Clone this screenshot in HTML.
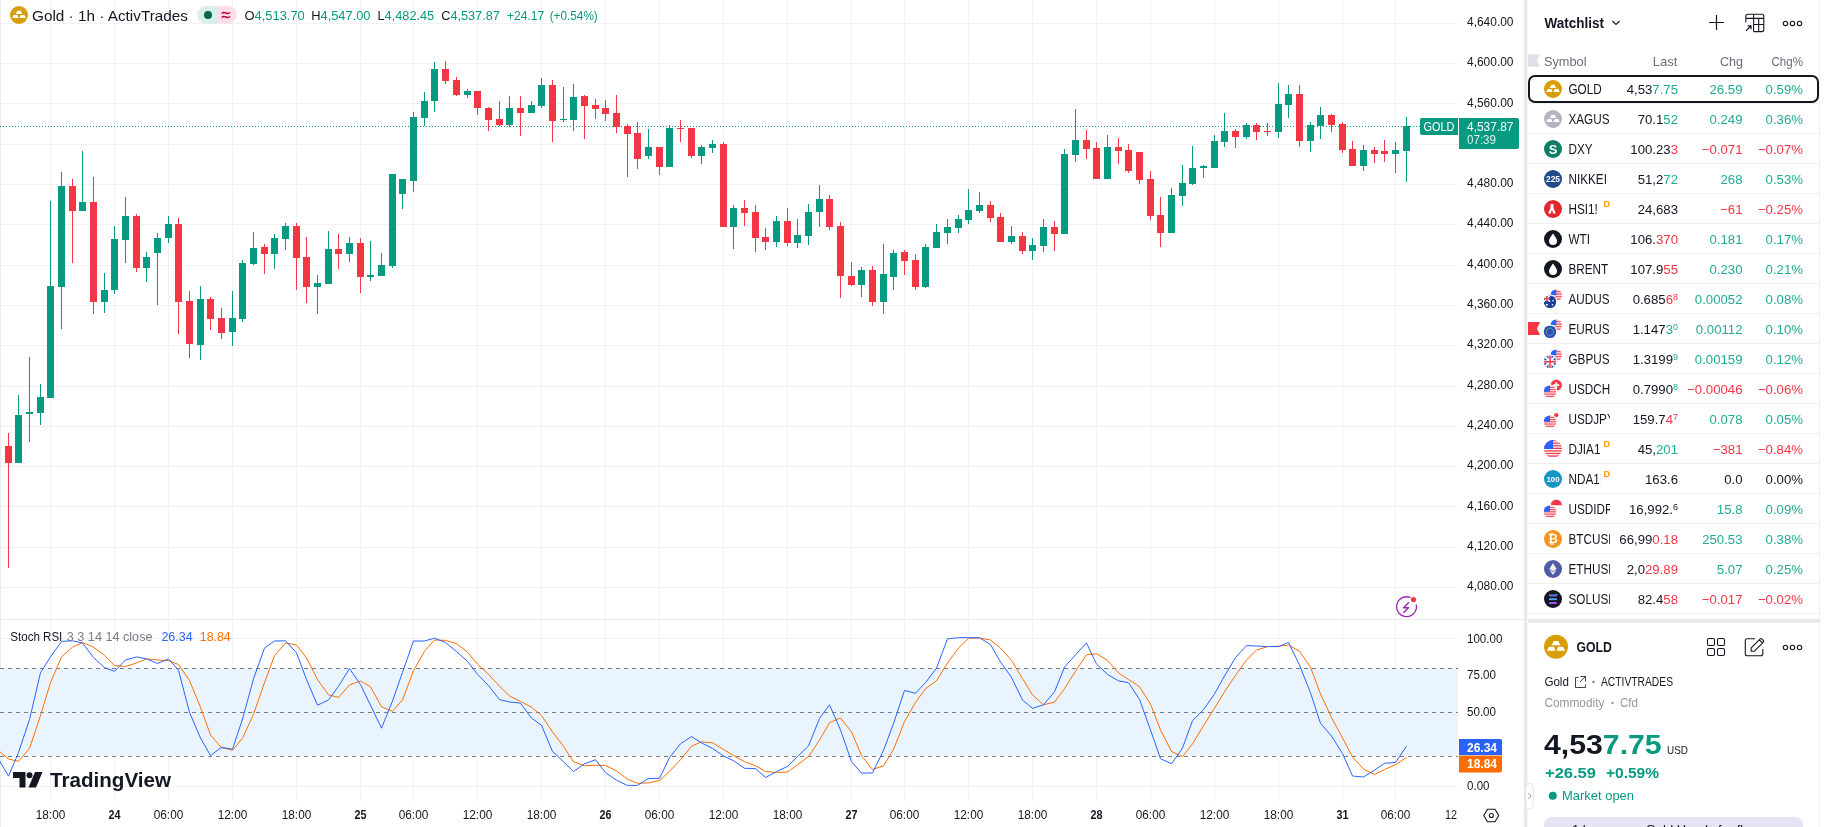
<!DOCTYPE html><html><head><meta charset="utf-8"><style>
html,body{margin:0;padding:0;background:#fff;}body{width:1824px;height:827px;overflow:hidden;position:relative;font-family:"Liberation Sans",sans-serif;}
svg text{font-family:"Liberation Sans",sans-serif;}svg{will-change:transform;}
</style></head><body>
<svg width="1824" height="827" viewBox="0 0 1824 827" style="position:absolute;left:0;top:0" shape-rendering="crispEdges">
<rect x="50" y="0" width="1" height="619" fill="#f2f2f2"/>
<rect x="50" y="620" width="1" height="181" fill="#f2f2f2"/>
<rect x="114" y="0" width="1" height="619" fill="#f2f2f2"/>
<rect x="114" y="620" width="1" height="181" fill="#f2f2f2"/>
<rect x="168" y="0" width="1" height="619" fill="#f2f2f2"/>
<rect x="168" y="620" width="1" height="181" fill="#f2f2f2"/>
<rect x="232" y="0" width="1" height="619" fill="#f2f2f2"/>
<rect x="232" y="620" width="1" height="181" fill="#f2f2f2"/>
<rect x="296" y="0" width="1" height="619" fill="#f2f2f2"/>
<rect x="296" y="620" width="1" height="181" fill="#f2f2f2"/>
<rect x="360" y="0" width="1" height="619" fill="#f2f2f2"/>
<rect x="360" y="620" width="1" height="181" fill="#f2f2f2"/>
<rect x="413" y="0" width="1" height="619" fill="#f2f2f2"/>
<rect x="413" y="620" width="1" height="181" fill="#f2f2f2"/>
<rect x="477" y="0" width="1" height="619" fill="#f2f2f2"/>
<rect x="477" y="620" width="1" height="181" fill="#f2f2f2"/>
<rect x="541" y="0" width="1" height="619" fill="#f2f2f2"/>
<rect x="541" y="620" width="1" height="181" fill="#f2f2f2"/>
<rect x="605" y="0" width="1" height="619" fill="#f2f2f2"/>
<rect x="605" y="620" width="1" height="181" fill="#f2f2f2"/>
<rect x="659" y="0" width="1" height="619" fill="#f2f2f2"/>
<rect x="659" y="620" width="1" height="181" fill="#f2f2f2"/>
<rect x="723" y="0" width="1" height="619" fill="#f2f2f2"/>
<rect x="723" y="620" width="1" height="181" fill="#f2f2f2"/>
<rect x="787" y="0" width="1" height="619" fill="#f2f2f2"/>
<rect x="787" y="620" width="1" height="181" fill="#f2f2f2"/>
<rect x="851" y="0" width="1" height="619" fill="#f2f2f2"/>
<rect x="851" y="620" width="1" height="181" fill="#f2f2f2"/>
<rect x="904" y="0" width="1" height="619" fill="#f2f2f2"/>
<rect x="904" y="620" width="1" height="181" fill="#f2f2f2"/>
<rect x="968" y="0" width="1" height="619" fill="#f2f2f2"/>
<rect x="968" y="620" width="1" height="181" fill="#f2f2f2"/>
<rect x="1032" y="0" width="1" height="619" fill="#f2f2f2"/>
<rect x="1032" y="620" width="1" height="181" fill="#f2f2f2"/>
<rect x="1096" y="0" width="1" height="619" fill="#f2f2f2"/>
<rect x="1096" y="620" width="1" height="181" fill="#f2f2f2"/>
<rect x="1150" y="0" width="1" height="619" fill="#f2f2f2"/>
<rect x="1150" y="620" width="1" height="181" fill="#f2f2f2"/>
<rect x="1214" y="0" width="1" height="619" fill="#f2f2f2"/>
<rect x="1214" y="620" width="1" height="181" fill="#f2f2f2"/>
<rect x="1278" y="0" width="1" height="619" fill="#f2f2f2"/>
<rect x="1278" y="620" width="1" height="181" fill="#f2f2f2"/>
<rect x="1342" y="0" width="1" height="619" fill="#f2f2f2"/>
<rect x="1342" y="620" width="1" height="181" fill="#f2f2f2"/>
<rect x="1395" y="0" width="1" height="619" fill="#f2f2f2"/>
<rect x="1395" y="620" width="1" height="181" fill="#f2f2f2"/>
<rect x="0" y="23" width="1458" height="1" fill="#f2f2f2"/>
<rect x="0" y="63" width="1458" height="1" fill="#f2f2f2"/>
<rect x="0" y="103" width="1458" height="1" fill="#f2f2f2"/>
<rect x="0" y="144" width="1458" height="1" fill="#f2f2f2"/>
<rect x="0" y="184" width="1458" height="1" fill="#f2f2f2"/>
<rect x="0" y="224" width="1458" height="1" fill="#f2f2f2"/>
<rect x="0" y="265" width="1458" height="1" fill="#f2f2f2"/>
<rect x="0" y="305" width="1458" height="1" fill="#f2f2f2"/>
<rect x="0" y="345" width="1458" height="1" fill="#f2f2f2"/>
<rect x="0" y="386" width="1458" height="1" fill="#f2f2f2"/>
<rect x="0" y="426" width="1458" height="1" fill="#f2f2f2"/>
<rect x="0" y="466" width="1458" height="1" fill="#f2f2f2"/>
<rect x="0" y="506" width="1458" height="1" fill="#f2f2f2"/>
<rect x="0" y="547" width="1458" height="1" fill="#f2f2f2"/>
<rect x="0" y="587" width="1458" height="1" fill="#f2f2f2"/>
<rect x="0" y="638" width="1458" height="1" fill="#f2f2f2"/>
<rect x="0" y="675" width="1458" height="1" fill="#f2f2f2"/>
<rect x="0" y="712" width="1458" height="1" fill="#f2f2f2"/>
<rect x="0" y="749" width="1458" height="1" fill="#f2f2f2"/>
<rect x="0" y="786" width="1458" height="1" fill="#f2f2f2"/>
<rect x="0" y="0" width="1" height="827" fill="#e9e9e9"/>
<rect x="0" y="619" width="1524" height="1" fill="#eaeaea"/>
<line x1="0" y1="126.5" x2="1420" y2="126.5" stroke="#089981" stroke-width="1" stroke-dasharray="1 2"/>
<rect x="8" y="433" width="1" height="135" fill="#f23645"/>
<rect x="5" y="446" width="7" height="17" fill="#f23645"/>
<rect x="18" y="395" width="1" height="68" fill="#089981"/>
<rect x="15" y="415" width="7" height="48" fill="#089981"/>
<rect x="29" y="357" width="1" height="85" fill="#089981"/>
<rect x="26" y="412" width="7" height="2" fill="#089981"/>
<rect x="40" y="384" width="1" height="41" fill="#089981"/>
<rect x="37" y="397" width="7" height="16" fill="#089981"/>
<rect x="50" y="201" width="1" height="197" fill="#089981"/>
<rect x="47" y="286" width="7" height="112" fill="#089981"/>
<rect x="61" y="172" width="1" height="157" fill="#089981"/>
<rect x="58" y="186" width="7" height="101" fill="#089981"/>
<rect x="72" y="179" width="1" height="84" fill="#f23645"/>
<rect x="69" y="186" width="7" height="25" fill="#f23645"/>
<rect x="82" y="151" width="1" height="60" fill="#089981"/>
<rect x="79" y="202" width="7" height="9" fill="#089981"/>
<rect x="93" y="177" width="1" height="137" fill="#f23645"/>
<rect x="90" y="202" width="7" height="100" fill="#f23645"/>
<rect x="104" y="273" width="1" height="40" fill="#089981"/>
<rect x="101" y="290" width="7" height="12" fill="#089981"/>
<rect x="114" y="226" width="1" height="68" fill="#089981"/>
<rect x="111" y="239" width="7" height="51" fill="#089981"/>
<rect x="125" y="197" width="1" height="66" fill="#089981"/>
<rect x="122" y="216" width="7" height="24" fill="#089981"/>
<rect x="136" y="214" width="1" height="58" fill="#f23645"/>
<rect x="133" y="216" width="7" height="52" fill="#f23645"/>
<rect x="146" y="252" width="1" height="30" fill="#089981"/>
<rect x="143" y="257" width="7" height="11" fill="#089981"/>
<rect x="157" y="233" width="1" height="72" fill="#089981"/>
<rect x="154" y="238" width="7" height="15" fill="#089981"/>
<rect x="168" y="216" width="1" height="27" fill="#089981"/>
<rect x="165" y="224" width="7" height="14" fill="#089981"/>
<rect x="178" y="218" width="1" height="116" fill="#f23645"/>
<rect x="175" y="224" width="7" height="78" fill="#f23645"/>
<rect x="189" y="291" width="1" height="67" fill="#f23645"/>
<rect x="186" y="301" width="7" height="43" fill="#f23645"/>
<rect x="200" y="286" width="1" height="74" fill="#089981"/>
<rect x="197" y="299" width="7" height="46" fill="#089981"/>
<rect x="210" y="297" width="1" height="33" fill="#f23645"/>
<rect x="207" y="299" width="7" height="20" fill="#f23645"/>
<rect x="221" y="308" width="1" height="31" fill="#f23645"/>
<rect x="218" y="318" width="7" height="15" fill="#f23645"/>
<rect x="232" y="291" width="1" height="55" fill="#089981"/>
<rect x="229" y="318" width="7" height="14" fill="#089981"/>
<rect x="242" y="260" width="1" height="62" fill="#089981"/>
<rect x="239" y="263" width="7" height="56" fill="#089981"/>
<rect x="253" y="232" width="1" height="33" fill="#089981"/>
<rect x="250" y="248" width="7" height="16" fill="#089981"/>
<rect x="264" y="244" width="1" height="30" fill="#f23645"/>
<rect x="261" y="247" width="7" height="7" fill="#f23645"/>
<rect x="274" y="234" width="1" height="35" fill="#089981"/>
<rect x="271" y="238" width="7" height="16" fill="#089981"/>
<rect x="285" y="223" width="1" height="27" fill="#089981"/>
<rect x="282" y="226" width="7" height="13" fill="#089981"/>
<rect x="296" y="223" width="1" height="67" fill="#f23645"/>
<rect x="293" y="226" width="7" height="32" fill="#f23645"/>
<rect x="306" y="237" width="1" height="66" fill="#f23645"/>
<rect x="303" y="257" width="7" height="30" fill="#f23645"/>
<rect x="317" y="275" width="1" height="39" fill="#089981"/>
<rect x="314" y="283" width="7" height="4" fill="#089981"/>
<rect x="328" y="231" width="1" height="53" fill="#089981"/>
<rect x="325" y="249" width="7" height="35" fill="#089981"/>
<rect x="338" y="234" width="1" height="35" fill="#f23645"/>
<rect x="335" y="249" width="7" height="5" fill="#f23645"/>
<rect x="349" y="237" width="1" height="25" fill="#089981"/>
<rect x="346" y="243" width="7" height="11" fill="#089981"/>
<rect x="360" y="238" width="1" height="55" fill="#f23645"/>
<rect x="357" y="243" width="7" height="34" fill="#f23645"/>
<rect x="370" y="241" width="1" height="40" fill="#089981"/>
<rect x="367" y="275" width="7" height="2" fill="#089981"/>
<rect x="381" y="253" width="1" height="23" fill="#089981"/>
<rect x="378" y="265" width="7" height="11" fill="#089981"/>
<rect x="392" y="174" width="1" height="94" fill="#089981"/>
<rect x="389" y="174" width="7" height="92" fill="#089981"/>
<rect x="402" y="179" width="1" height="30" fill="#089981"/>
<rect x="399" y="179" width="7" height="15" fill="#089981"/>
<rect x="413" y="112" width="1" height="80" fill="#089981"/>
<rect x="410" y="117" width="7" height="64" fill="#089981"/>
<rect x="424" y="92" width="1" height="34" fill="#089981"/>
<rect x="421" y="101" width="7" height="17" fill="#089981"/>
<rect x="434" y="62" width="1" height="50" fill="#089981"/>
<rect x="431" y="69" width="7" height="32" fill="#089981"/>
<rect x="445" y="61" width="1" height="23" fill="#f23645"/>
<rect x="442" y="69" width="7" height="12" fill="#f23645"/>
<rect x="456" y="77" width="1" height="19" fill="#f23645"/>
<rect x="453" y="80" width="7" height="15" fill="#f23645"/>
<rect x="467" y="89" width="1" height="9" fill="#089981"/>
<rect x="464" y="91" width="7" height="4" fill="#089981"/>
<rect x="477" y="91" width="1" height="24" fill="#f23645"/>
<rect x="474" y="91" width="7" height="17" fill="#f23645"/>
<rect x="488" y="107" width="1" height="24" fill="#f23645"/>
<rect x="485" y="108" width="7" height="12" fill="#f23645"/>
<rect x="499" y="101" width="1" height="25" fill="#f23645"/>
<rect x="496" y="119" width="7" height="6" fill="#f23645"/>
<rect x="509" y="96" width="1" height="31" fill="#089981"/>
<rect x="506" y="108" width="7" height="17" fill="#089981"/>
<rect x="520" y="96" width="1" height="40" fill="#f23645"/>
<rect x="517" y="108" width="7" height="5" fill="#f23645"/>
<rect x="531" y="101" width="1" height="12" fill="#089981"/>
<rect x="528" y="105" width="7" height="8" fill="#089981"/>
<rect x="541" y="78" width="1" height="30" fill="#089981"/>
<rect x="538" y="85" width="7" height="21" fill="#089981"/>
<rect x="552" y="80" width="1" height="62" fill="#f23645"/>
<rect x="549" y="85" width="7" height="36" fill="#f23645"/>
<rect x="563" y="87" width="1" height="35" fill="#089981"/>
<rect x="560" y="119" width="7" height="1" fill="#089981"/>
<rect x="573" y="84" width="1" height="47" fill="#089981"/>
<rect x="570" y="97" width="7" height="23" fill="#089981"/>
<rect x="584" y="95" width="1" height="44" fill="#f23645"/>
<rect x="581" y="96" width="7" height="10" fill="#f23645"/>
<rect x="595" y="99" width="1" height="20" fill="#f23645"/>
<rect x="592" y="105" width="7" height="4" fill="#f23645"/>
<rect x="605" y="100" width="1" height="21" fill="#f23645"/>
<rect x="602" y="108" width="7" height="6" fill="#f23645"/>
<rect x="616" y="95" width="1" height="38" fill="#f23645"/>
<rect x="613" y="113" width="7" height="14" fill="#f23645"/>
<rect x="627" y="124" width="1" height="53" fill="#f23645"/>
<rect x="624" y="126" width="7" height="8" fill="#f23645"/>
<rect x="637" y="122" width="1" height="47" fill="#f23645"/>
<rect x="634" y="133" width="7" height="26" fill="#f23645"/>
<rect x="648" y="129" width="1" height="30" fill="#089981"/>
<rect x="645" y="147" width="7" height="9" fill="#089981"/>
<rect x="659" y="147" width="1" height="28" fill="#f23645"/>
<rect x="656" y="147" width="7" height="20" fill="#f23645"/>
<rect x="669" y="125" width="1" height="42" fill="#089981"/>
<rect x="666" y="128" width="7" height="39" fill="#089981"/>
<rect x="680" y="120" width="1" height="22" fill="#f23645"/>
<rect x="677" y="128" width="7" height="1" fill="#f23645"/>
<rect x="691" y="128" width="1" height="30" fill="#f23645"/>
<rect x="688" y="128" width="7" height="28" fill="#f23645"/>
<rect x="701" y="145" width="1" height="19" fill="#089981"/>
<rect x="698" y="147" width="7" height="9" fill="#089981"/>
<rect x="712" y="140" width="1" height="13" fill="#089981"/>
<rect x="709" y="144" width="7" height="4" fill="#089981"/>
<rect x="723" y="142" width="1" height="85" fill="#f23645"/>
<rect x="720" y="144" width="7" height="83" fill="#f23645"/>
<rect x="733" y="205" width="1" height="44" fill="#089981"/>
<rect x="730" y="208" width="7" height="19" fill="#089981"/>
<rect x="744" y="200" width="1" height="26" fill="#f23645"/>
<rect x="741" y="208" width="7" height="5" fill="#f23645"/>
<rect x="755" y="205" width="1" height="47" fill="#f23645"/>
<rect x="752" y="212" width="7" height="26" fill="#f23645"/>
<rect x="765" y="228" width="1" height="22" fill="#f23645"/>
<rect x="762" y="237" width="7" height="5" fill="#f23645"/>
<rect x="776" y="216" width="1" height="31" fill="#089981"/>
<rect x="773" y="221" width="7" height="21" fill="#089981"/>
<rect x="787" y="208" width="1" height="38" fill="#f23645"/>
<rect x="784" y="221" width="7" height="22" fill="#f23645"/>
<rect x="797" y="219" width="1" height="29" fill="#089981"/>
<rect x="794" y="235" width="7" height="8" fill="#089981"/>
<rect x="808" y="204" width="1" height="41" fill="#089981"/>
<rect x="805" y="212" width="7" height="24" fill="#089981"/>
<rect x="819" y="185" width="1" height="42" fill="#089981"/>
<rect x="816" y="199" width="7" height="13" fill="#089981"/>
<rect x="829" y="195" width="1" height="35" fill="#f23645"/>
<rect x="826" y="199" width="7" height="28" fill="#f23645"/>
<rect x="840" y="222" width="1" height="76" fill="#f23645"/>
<rect x="837" y="226" width="7" height="50" fill="#f23645"/>
<rect x="851" y="262" width="1" height="24" fill="#f23645"/>
<rect x="848" y="276" width="7" height="9" fill="#f23645"/>
<rect x="861" y="267" width="1" height="30" fill="#089981"/>
<rect x="858" y="270" width="7" height="15" fill="#089981"/>
<rect x="872" y="266" width="1" height="40" fill="#f23645"/>
<rect x="869" y="270" width="7" height="32" fill="#f23645"/>
<rect x="883" y="244" width="1" height="70" fill="#089981"/>
<rect x="880" y="274" width="7" height="28" fill="#089981"/>
<rect x="893" y="250" width="1" height="40" fill="#089981"/>
<rect x="890" y="253" width="7" height="24" fill="#089981"/>
<rect x="904" y="250" width="1" height="25" fill="#f23645"/>
<rect x="901" y="252" width="7" height="9" fill="#f23645"/>
<rect x="915" y="254" width="1" height="36" fill="#f23645"/>
<rect x="912" y="260" width="7" height="27" fill="#f23645"/>
<rect x="925" y="244" width="1" height="44" fill="#089981"/>
<rect x="922" y="247" width="7" height="40" fill="#089981"/>
<rect x="936" y="224" width="1" height="24" fill="#089981"/>
<rect x="933" y="232" width="7" height="16" fill="#089981"/>
<rect x="947" y="219" width="1" height="25" fill="#089981"/>
<rect x="944" y="227" width="7" height="6" fill="#089981"/>
<rect x="958" y="215" width="1" height="18" fill="#089981"/>
<rect x="955" y="219" width="7" height="9" fill="#089981"/>
<rect x="968" y="189" width="1" height="35" fill="#089981"/>
<rect x="965" y="210" width="7" height="10" fill="#089981"/>
<rect x="979" y="192" width="1" height="21" fill="#089981"/>
<rect x="976" y="205" width="7" height="6" fill="#089981"/>
<rect x="990" y="201" width="1" height="21" fill="#f23645"/>
<rect x="987" y="205" width="7" height="13" fill="#f23645"/>
<rect x="1000" y="213" width="1" height="29" fill="#f23645"/>
<rect x="997" y="217" width="7" height="25" fill="#f23645"/>
<rect x="1011" y="226" width="1" height="18" fill="#089981"/>
<rect x="1008" y="236" width="7" height="6" fill="#089981"/>
<rect x="1022" y="232" width="1" height="22" fill="#f23645"/>
<rect x="1019" y="236" width="7" height="15" fill="#f23645"/>
<rect x="1032" y="238" width="1" height="22" fill="#089981"/>
<rect x="1029" y="245" width="7" height="6" fill="#089981"/>
<rect x="1043" y="219" width="1" height="33" fill="#089981"/>
<rect x="1040" y="227" width="7" height="19" fill="#089981"/>
<rect x="1054" y="221" width="1" height="30" fill="#f23645"/>
<rect x="1051" y="227" width="7" height="7" fill="#f23645"/>
<rect x="1064" y="149" width="1" height="85" fill="#089981"/>
<rect x="1061" y="154" width="7" height="80" fill="#089981"/>
<rect x="1075" y="109" width="1" height="53" fill="#089981"/>
<rect x="1072" y="140" width="7" height="15" fill="#089981"/>
<rect x="1086" y="130" width="1" height="29" fill="#f23645"/>
<rect x="1083" y="140" width="7" height="9" fill="#f23645"/>
<rect x="1096" y="142" width="1" height="37" fill="#f23645"/>
<rect x="1093" y="148" width="7" height="31" fill="#f23645"/>
<rect x="1107" y="135" width="1" height="44" fill="#089981"/>
<rect x="1104" y="147" width="7" height="32" fill="#089981"/>
<rect x="1118" y="138" width="1" height="26" fill="#f23645"/>
<rect x="1115" y="147" width="7" height="4" fill="#f23645"/>
<rect x="1128" y="144" width="1" height="29" fill="#f23645"/>
<rect x="1125" y="150" width="7" height="21" fill="#f23645"/>
<rect x="1139" y="152" width="1" height="32" fill="#f23645"/>
<rect x="1136" y="152" width="7" height="28" fill="#f23645"/>
<rect x="1150" y="171" width="1" height="49" fill="#f23645"/>
<rect x="1147" y="179" width="7" height="37" fill="#f23645"/>
<rect x="1160" y="197" width="1" height="50" fill="#f23645"/>
<rect x="1157" y="215" width="7" height="18" fill="#f23645"/>
<rect x="1171" y="188" width="1" height="45" fill="#089981"/>
<rect x="1168" y="195" width="7" height="38" fill="#089981"/>
<rect x="1182" y="165" width="1" height="41" fill="#089981"/>
<rect x="1179" y="183" width="7" height="13" fill="#089981"/>
<rect x="1192" y="146" width="1" height="39" fill="#089981"/>
<rect x="1189" y="168" width="7" height="16" fill="#089981"/>
<rect x="1203" y="165" width="1" height="13" fill="#089981"/>
<rect x="1200" y="166" width="7" height="2" fill="#089981"/>
<rect x="1214" y="135" width="1" height="33" fill="#089981"/>
<rect x="1211" y="141" width="7" height="27" fill="#089981"/>
<rect x="1224" y="113" width="1" height="34" fill="#089981"/>
<rect x="1221" y="131" width="7" height="11" fill="#089981"/>
<rect x="1235" y="129" width="1" height="19" fill="#f23645"/>
<rect x="1232" y="131" width="7" height="6" fill="#f23645"/>
<rect x="1246" y="123" width="1" height="16" fill="#089981"/>
<rect x="1243" y="125" width="7" height="12" fill="#089981"/>
<rect x="1256" y="123" width="1" height="17" fill="#f23645"/>
<rect x="1253" y="125" width="7" height="7" fill="#f23645"/>
<rect x="1267" y="123" width="1" height="13" fill="#f23645"/>
<rect x="1264" y="131" width="7" height="1" fill="#f23645"/>
<rect x="1278" y="83" width="1" height="55" fill="#089981"/>
<rect x="1275" y="104" width="7" height="28" fill="#089981"/>
<rect x="1288" y="85" width="1" height="33" fill="#089981"/>
<rect x="1285" y="94" width="7" height="11" fill="#089981"/>
<rect x="1299" y="85" width="1" height="62" fill="#f23645"/>
<rect x="1296" y="94" width="7" height="47" fill="#f23645"/>
<rect x="1310" y="122" width="1" height="30" fill="#089981"/>
<rect x="1307" y="125" width="7" height="16" fill="#089981"/>
<rect x="1320" y="107" width="1" height="32" fill="#089981"/>
<rect x="1317" y="115" width="7" height="11" fill="#089981"/>
<rect x="1331" y="114" width="1" height="18" fill="#f23645"/>
<rect x="1328" y="115" width="7" height="10" fill="#f23645"/>
<rect x="1342" y="122" width="1" height="31" fill="#f23645"/>
<rect x="1339" y="124" width="7" height="26" fill="#f23645"/>
<rect x="1352" y="141" width="1" height="25" fill="#f23645"/>
<rect x="1349" y="149" width="7" height="17" fill="#f23645"/>
<rect x="1363" y="145" width="1" height="26" fill="#089981"/>
<rect x="1360" y="150" width="7" height="16" fill="#089981"/>
<rect x="1374" y="147" width="1" height="16" fill="#f23645"/>
<rect x="1371" y="150" width="7" height="4" fill="#f23645"/>
<rect x="1384" y="140" width="1" height="22" fill="#f23645"/>
<rect x="1381" y="151" width="7" height="3" fill="#f23645"/>
<rect x="1395" y="142" width="1" height="31" fill="#089981"/>
<rect x="1392" y="150" width="7" height="4" fill="#089981"/>
<rect x="1406" y="117" width="1" height="65" fill="#089981"/>
<rect x="1403" y="126" width="7" height="25" fill="#089981"/>
<rect x="0" y="668" width="1458" height="88" fill="#e9f4fe" opacity="1"/>
<line x1="0" y1="668.5" x2="1458" y2="668.5" stroke="#787b86" stroke-width="1" stroke-dasharray="4 4"/>
<line x1="0" y1="712.5" x2="1458" y2="712.5" stroke="#787b86" stroke-width="1" stroke-dasharray="4 4"/>
<line x1="0" y1="756.5" x2="1458" y2="756.5" stroke="#787b86" stroke-width="1" stroke-dasharray="4 4"/>
</svg>
<svg width="1824" height="827" viewBox="0 0 1824 827" style="position:absolute;left:0;top:0">
<defs><clipPath id="sp"><rect x="0" y="620" width="1458" height="181"/></clipPath></defs>
<polyline clip-path="url(#sp)" points="-2.1,750 8.5,759 18.5,761.3 29.5,748.4 40.5,715.5 50.5,682.6 61.5,656.9 72.5,647.2 82.5,642.5 93.5,647.2 104.5,655.4 114.5,665.5 125.5,666.5 136.5,663 146.5,658.9 157.5,660 168.5,660.6 178.5,664.5 189.5,680.5 200.5,707.2 210.5,735 221.5,747.7 232.5,750.2 242.5,738.2 253.5,714.4 264.5,682.6 274.5,655.8 285.5,643 296.5,645 306.5,657.9 317.5,679.5 328.5,694.9 338.5,697.4 349.5,685 360.5,681 370.5,686.7 381.5,706.8 392.5,711.3 402.5,700 413.5,670.6 424.5,651.3 434.5,640 445.5,640.4 456.5,643.7 467.5,652.2 477.5,664.1 488.5,674.3 499.5,686.3 509.5,695.9 520.5,701.5 531.5,707.2 541.5,715.5 552.5,731.9 563.5,746.3 573.5,761.7 584.5,765.8 595.5,765.2 605.5,765.4 616.5,771 627.5,779.2 637.5,783.3 648.5,782.9 659.5,780.6 669.5,771.4 680.5,759.7 691.5,746.3 701.5,741.8 712.5,742.8 723.5,749.4 733.5,755.5 744.5,761.7 755.5,765.8 765.5,771.4 776.5,772.6 787.5,772 797.5,764.8 808.5,756.6 819.5,740.1 829.5,722.7 840.5,717.9 851.5,731.9 861.5,755.5 872.5,769.5 883.5,765.8 893.5,749.4 904.5,721.6 915.5,702.4 925.5,688.7 936.5,680.9 947.5,663 958.5,648 968.5,638.4 979.5,638 990.5,640 1000.5,648 1011.5,660.4 1022.5,678.5 1032.5,694.9 1043.5,704.8 1054.5,702.1 1064.5,688.7 1075.5,671.3 1086.5,654.8 1096.5,653.8 1107.5,660.4 1118.5,672.9 1128.5,679.5 1139.5,686.7 1150.5,704.2 1160.5,729.9 1171.5,751.4 1182.5,756.6 1192.5,743.8 1203.5,725.7 1214.5,708.3 1224.5,691.8 1235.5,675.4 1246.5,660 1256.5,650.1 1267.5,646.6 1278.5,646.2 1288.5,645.1 1299.5,651.3 1310.5,667.1 1320.5,693.9 1331.5,717.5 1342.5,738 1352.5,757 1363.5,769 1374.5,774.5 1384.5,769.5 1395.5,764.7 1406.5,757.5" fill="none" stroke="#ff6d00" stroke-width="1" stroke-linejoin="round"/>
<polyline clip-path="url(#sp)" points="-2.1,758 8.5,776.1 18.5,752.5 29.5,719.6 40.5,672.7 50.5,656.9 61.5,641.4 72.5,640.8 82.5,642.9 93.5,657.5 104.5,667.6 114.5,671.3 125.5,660 136.5,656.9 146.5,658.9 157.5,663.4 168.5,658.9 178.5,670.2 189.5,712.4 200.5,738 210.5,755.5 221.5,747.3 232.5,749.2 242.5,719 253.5,678.9 264.5,648 274.5,641 285.5,640.8 296.5,652.8 306.5,679.5 317.5,705.2 328.5,700 338.5,686.3 349.5,668.6 360.5,684.6 370.5,705.2 381.5,728.2 392.5,701 402.5,672.3 413.5,641 424.5,641 434.5,638.2 445.5,642.5 456.5,651.5 467.5,661.3 477.5,674.3 488.5,685.6 499.5,699.6 509.5,702 520.5,703.1 531.5,718.1 541.5,725.3 552.5,751.4 563.5,761.7 573.5,771.6 584.5,763.8 595.5,759.7 605.5,772.6 616.5,780.2 627.5,785.4 637.5,785.4 648.5,778.4 659.5,778.4 669.5,757.6 680.5,743.8 691.5,736.5 701.5,742.9 712.5,748.4 723.5,756 733.5,760.7 744.5,768.3 755.5,768.5 765.5,777.5 776.5,771.6 787.5,766.4 797.5,756.6 808.5,745.9 819.5,718.5 829.5,704.8 840.5,729.9 851.5,761.7 861.5,773 872.5,773 883.5,750.4 893.5,723.7 904.5,690.4 915.5,693.3 925.5,682.6 936.5,668.2 947.5,638.8 958.5,637.7 968.5,637.7 979.5,637.7 990.5,644.5 1000.5,662 1011.5,677.4 1022.5,700 1032.5,708.3 1043.5,704.8 1054.5,691.8 1064.5,667.1 1075.5,654.8 1086.5,642.9 1096.5,664.1 1107.5,674.3 1118.5,680.9 1128.5,682.6 1139.5,699.4 1150.5,730 1160.5,758.6 1171.5,763.8 1182.5,748 1192.5,720.6 1203.5,709.7 1214.5,693.9 1224.5,676 1235.5,657.5 1246.5,645.6 1256.5,646 1267.5,646.6 1278.5,646.6 1288.5,642.5 1299.5,665.1 1310.5,692.8 1320.5,723.3 1331.5,736 1342.5,753.5 1352.5,776 1363.5,777 1374.5,770.2 1384.5,763.3 1395.5,762.5 1406.5,746.2" fill="none" stroke="#2962ff" stroke-width="1" stroke-linejoin="round"/>
</svg>
<svg width="1824" height="827" viewBox="0 0 1824 827" style="position:absolute;left:0;top:0">
<rect x="1524" y="0" width="3" height="827" fill="#e9e9e9"/><rect x="1527" y="0" width="1" height="827" fill="#f7f7f7"/>
<rect x="1819" y="0" width="1" height="827" fill="#efefef"/>
<g transform="translate(19,15) scale(1.0)"><circle r="9" fill="#d89e06"/><path d="M-1.6,-4.3 h3.2 l1.7,3.3 h-6.6 z M-5.3,0 h3.7 l1.15,3 h-6.35 z M1.6,0 h3.7 l1.45,3 h-6.3 z" fill="#fff"/></g>
<text x="32" y="20.5" font-size="14.6" fill="#131722" textLength="156" lengthAdjust="spacingAndGlyphs">Gold · 1h · ActivTrades</text>
<path d="M206,6.1 h11 v17.6 h-11 a8.8,8.8 0 0 1 0,-17.6 z" fill="#d9efea"/>
<path d="M217,6.1 h11 a8.8,8.8 0 0 1 0,17.6 h-11 z" fill="#fcdfe8"/>
<circle cx="208" cy="14.9" r="4" fill="#08674f"/>
<path d="M221.8,13.6 c1.3,-1.6 2.6,-1.4 4.1,-0.6 c1.5,0.8 2.8,1 4.1,-0.6 M221.8,17.6 c1.3,-1.6 2.6,-1.4 4.1,-0.6 c1.5,0.8 2.8,1 4.1,-0.6" fill="none" stroke="#b8004f" stroke-width="1.5"/>
<text x="244.5" y="19.8" font-size="13.2" fill="#089981" textLength="60.3" lengthAdjust="spacingAndGlyphs"><tspan fill="#131722">O</tspan>4,513.70</text>
<text x="311.2" y="19.8" font-size="13.2" fill="#089981" textLength="59.3" lengthAdjust="spacingAndGlyphs"><tspan fill="#131722">H</tspan>4,547.00</text>
<text x="377.5" y="19.8" font-size="13.2" fill="#089981" textLength="56.7" lengthAdjust="spacingAndGlyphs"><tspan fill="#131722">L</tspan>4,482.45</text>
<text x="441.2" y="19.8" font-size="13.2" fill="#089981" textLength="58.6" lengthAdjust="spacingAndGlyphs"><tspan fill="#131722">C</tspan>4,537.87</text>
<text x="506.9" y="19.8" font-size="13.2" fill="#089981" textLength="37.4" lengthAdjust="spacingAndGlyphs">+24.17</text>
<text x="549.7" y="19.8" font-size="13.2" fill="#089981" textLength="48.1" lengthAdjust="spacingAndGlyphs">(+0.54%)</text>
<text x="1467" y="26.0" font-size="12" fill="#131722" textLength="46.5" lengthAdjust="spacingAndGlyphs">4,640.00</text>
<text x="1467" y="66.3" font-size="12" fill="#131722" textLength="46.5" lengthAdjust="spacingAndGlyphs">4,600.00</text>
<text x="1467" y="106.6" font-size="12" fill="#131722" textLength="46.5" lengthAdjust="spacingAndGlyphs">4,560.00</text>
<text x="1467" y="187.2" font-size="12" fill="#131722" textLength="46.5" lengthAdjust="spacingAndGlyphs">4,480.00</text>
<text x="1467" y="227.4" font-size="12" fill="#131722" textLength="46.5" lengthAdjust="spacingAndGlyphs">4,440.00</text>
<text x="1467" y="267.7" font-size="12" fill="#131722" textLength="46.5" lengthAdjust="spacingAndGlyphs">4,400.00</text>
<text x="1467" y="308.0" font-size="12" fill="#131722" textLength="46.5" lengthAdjust="spacingAndGlyphs">4,360.00</text>
<text x="1467" y="348.3" font-size="12" fill="#131722" textLength="46.5" lengthAdjust="spacingAndGlyphs">4,320.00</text>
<text x="1467" y="388.6" font-size="12" fill="#131722" textLength="46.5" lengthAdjust="spacingAndGlyphs">4,280.00</text>
<text x="1467" y="428.9" font-size="12" fill="#131722" textLength="46.5" lengthAdjust="spacingAndGlyphs">4,240.00</text>
<text x="1467" y="469.2" font-size="12" fill="#131722" textLength="46.5" lengthAdjust="spacingAndGlyphs">4,200.00</text>
<text x="1467" y="509.5" font-size="12" fill="#131722" textLength="46.5" lengthAdjust="spacingAndGlyphs">4,160.00</text>
<text x="1467" y="549.8" font-size="12" fill="#131722" textLength="46.5" lengthAdjust="spacingAndGlyphs">4,120.00</text>
<text x="1467" y="590.1" font-size="12" fill="#131722" textLength="46.5" lengthAdjust="spacingAndGlyphs">4,080.00</text>
<path d="M1422,118 h36 v17 h-36 a2,2 0 0 1 -2,-2 v-13 a2,2 0 0 1 2,-2 z" fill="#089981"/>
<text x="1439" y="131" font-size="12" fill="#fff" text-anchor="middle" textLength="31" lengthAdjust="spacingAndGlyphs">GOLD</text>
<path d="M1459,118 h58 a2,2 0 0 1 2,2 v27 a2,2 0 0 1 -2,2 h-58 z" fill="#089981"/>
<text x="1467" y="130.5" font-size="12" fill="#fff" textLength="46.5" lengthAdjust="spacingAndGlyphs">4,537.87</text>
<text x="1467" y="143.5" font-size="12" fill="#fff" fill-opacity="0.85" textLength="29" lengthAdjust="spacingAndGlyphs">07:39</text>
<text x="1467" y="642.8" font-size="12" fill="#131722" textLength="35.3" lengthAdjust="spacingAndGlyphs">100.00</text>
<text x="1467" y="679.3" font-size="12" fill="#131722" textLength="29" lengthAdjust="spacingAndGlyphs">75.00</text>
<text x="1467" y="716.3" font-size="12" fill="#131722" textLength="29" lengthAdjust="spacingAndGlyphs">50.00</text>
<text x="1467" y="790.3" font-size="12" fill="#131722" textLength="22.5" lengthAdjust="spacingAndGlyphs">0.00</text>
<path d="M1459,739 h41 a2,2 0 0 1 2,2 v14 h-43 z" fill="#2962ff"/>
<text x="1467" y="751.5" font-size="12" font-weight="bold" fill="#fff" textLength="30" lengthAdjust="spacingAndGlyphs">26.34</text>
<path d="M1459,755.5 h43 v15 a2,2 0 0 1 -2,2 h-41 z" fill="#ff6d00"/>
<text x="1467" y="768" font-size="12" font-weight="bold" fill="#fff" textLength="30" lengthAdjust="spacingAndGlyphs">18.84</text>
<g fill="none" stroke="#9c27b0" stroke-width="1.3"><path d="M1410.5,597.6 A9.9,9.9 0 1 0 1416.2,604.5"/></g>
<path d="M1409,602.3 L1403.5,607.8 h5 L1403.5,612.8" fill="none" stroke="#9c27b0" stroke-width="1.5" stroke-linejoin="round"/>
<circle cx="1413.5" cy="599.6" r="2.6" fill="#f23645"/>
<text x="10.3" y="641.2" font-size="12.6" fill="#131722"><tspan textLength="52" lengthAdjust="spacingAndGlyphs">Stoch RSI</tspan></text>
<text x="66.8" y="641.2" font-size="12.6" fill="#787b86" textLength="85.7" lengthAdjust="spacingAndGlyphs">3 3 14 14 close</text>
<text x="161.4" y="641.2" font-size="12.6" fill="#2962ff" textLength="31.2" lengthAdjust="spacingAndGlyphs">26.34</text>
<text x="199.8" y="641.2" font-size="12.6" fill="#ff6d00" textLength="30.9" lengthAdjust="spacingAndGlyphs">18.84</text>
<g fill="#131722"><path d="M13,772 h12.5 v15.5 h-6 v-9.5 h-6.5 z"/><circle cx="29.5" cy="775.2" r="3"/><path d="M35,772 h7.5 l-6.5,15.5 h-7.5 z"/></g>
<text x="50" y="787" font-size="20.5" font-weight="bold" fill="#131722" textLength="121" lengthAdjust="spacingAndGlyphs">TradingView</text>
<text x="50.5" y="818.8" font-size="12" fill="#131722" text-anchor="middle" textLength="29.5" lengthAdjust="spacingAndGlyphs">18:00</text>
<text x="114.5" y="818.8" font-size="12" font-weight="bold" fill="#131722" text-anchor="middle" textLength="12" lengthAdjust="spacingAndGlyphs">24</text>
<text x="168.5" y="818.8" font-size="12" fill="#131722" text-anchor="middle" textLength="29.5" lengthAdjust="spacingAndGlyphs">06:00</text>
<text x="232.5" y="818.8" font-size="12" fill="#131722" text-anchor="middle" textLength="29.5" lengthAdjust="spacingAndGlyphs">12:00</text>
<text x="296.5" y="818.8" font-size="12" fill="#131722" text-anchor="middle" textLength="29.5" lengthAdjust="spacingAndGlyphs">18:00</text>
<text x="360.5" y="818.8" font-size="12" font-weight="bold" fill="#131722" text-anchor="middle" textLength="12" lengthAdjust="spacingAndGlyphs">25</text>
<text x="413.5" y="818.8" font-size="12" fill="#131722" text-anchor="middle" textLength="29.5" lengthAdjust="spacingAndGlyphs">06:00</text>
<text x="477.5" y="818.8" font-size="12" fill="#131722" text-anchor="middle" textLength="29.5" lengthAdjust="spacingAndGlyphs">12:00</text>
<text x="541.5" y="818.8" font-size="12" fill="#131722" text-anchor="middle" textLength="29.5" lengthAdjust="spacingAndGlyphs">18:00</text>
<text x="605.5" y="818.8" font-size="12" font-weight="bold" fill="#131722" text-anchor="middle" textLength="12" lengthAdjust="spacingAndGlyphs">26</text>
<text x="659.5" y="818.8" font-size="12" fill="#131722" text-anchor="middle" textLength="29.5" lengthAdjust="spacingAndGlyphs">06:00</text>
<text x="723.5" y="818.8" font-size="12" fill="#131722" text-anchor="middle" textLength="29.5" lengthAdjust="spacingAndGlyphs">12:00</text>
<text x="787.5" y="818.8" font-size="12" fill="#131722" text-anchor="middle" textLength="29.5" lengthAdjust="spacingAndGlyphs">18:00</text>
<text x="851.5" y="818.8" font-size="12" font-weight="bold" fill="#131722" text-anchor="middle" textLength="12" lengthAdjust="spacingAndGlyphs">27</text>
<text x="904.5" y="818.8" font-size="12" fill="#131722" text-anchor="middle" textLength="29.5" lengthAdjust="spacingAndGlyphs">06:00</text>
<text x="968.5" y="818.8" font-size="12" fill="#131722" text-anchor="middle" textLength="29.5" lengthAdjust="spacingAndGlyphs">12:00</text>
<text x="1032.5" y="818.8" font-size="12" fill="#131722" text-anchor="middle" textLength="29.5" lengthAdjust="spacingAndGlyphs">18:00</text>
<text x="1096.5" y="818.8" font-size="12" font-weight="bold" fill="#131722" text-anchor="middle" textLength="12" lengthAdjust="spacingAndGlyphs">28</text>
<text x="1150.5" y="818.8" font-size="12" fill="#131722" text-anchor="middle" textLength="29.5" lengthAdjust="spacingAndGlyphs">06:00</text>
<text x="1214.5" y="818.8" font-size="12" fill="#131722" text-anchor="middle" textLength="29.5" lengthAdjust="spacingAndGlyphs">12:00</text>
<text x="1278.5" y="818.8" font-size="12" fill="#131722" text-anchor="middle" textLength="29.5" lengthAdjust="spacingAndGlyphs">18:00</text>
<text x="1342.5" y="818.8" font-size="12" font-weight="bold" fill="#131722" text-anchor="middle" textLength="12" lengthAdjust="spacingAndGlyphs">31</text>
<text x="1395.5" y="818.8" font-size="12" fill="#131722" text-anchor="middle" textLength="29.5" lengthAdjust="spacingAndGlyphs">06:00</text>
<text x="1445" y="818.8" font-size="12" fill="#131722" textLength="12" lengthAdjust="spacingAndGlyphs">12</text>
<path d="M1487.5,809.2 h7.5 l3.7,6.3 l-3.7,6.3 h-7.5 l-3.7,-6.3 z" fill="none" stroke="#131722" stroke-width="1.1"/>
<circle cx="1491.3" cy="815.5" r="2" fill="none" stroke="#131722" stroke-width="1.1"/>
<text x="1544.6" y="28.3" font-size="14.5" font-weight="bold" fill="#131722" textLength="59.5" lengthAdjust="spacingAndGlyphs">Watchlist</text>
<path d="M1612.5,21 l3.5,3.5 l3.5,-3.5" fill="none" stroke="#131722" stroke-width="1.1"/>
<path d="M1709,22.5 h15 M1716.5,15 v15" stroke="#131722" stroke-width="1.2"/>
<path d="M1745.8,22.6 v-6.4 a2,2 0 0 1 2,-2 h14 a2,2 0 0 1 2,2 v13.4 a2,2 0 0 1 -2,2 h-8.2 M1753.6,14.2 v17.4 M1745.8,18.4 h18 M1758.7,18.4 v13.2 M1753.6,24.5 h10.2" fill="none" stroke="#131722" stroke-width="1.1"/>
<path d="M1746,30.8 l4.8,-4.8 M1747.6,25.8 h3.4 v3.4" fill="none" stroke="#131722" stroke-width="1.2"/>
<circle cx="1785.5" cy="23.4" r="2.2" fill="none" stroke="#131722" stroke-width="1.1"/>
<circle cx="1792.5" cy="23.4" r="2.2" fill="none" stroke="#131722" stroke-width="1.1"/>
<circle cx="1799.5" cy="23.4" r="2.2" fill="none" stroke="#131722" stroke-width="1.1"/>
<path d="M1528,54.3 h12 l-3,6.2 l3,6.2 h-12 z" fill="#dfe1e6"/>
<text x="1544" y="65.8" font-size="13" fill="#6a6d78" textLength="42.5" lengthAdjust="spacingAndGlyphs">Symbol</text>
<text x="1677.5" y="65.8" font-size="13" fill="#6a6d78" text-anchor="end" textLength="24.8" lengthAdjust="spacingAndGlyphs">Last</text>
<text x="1743" y="65.8" font-size="13" fill="#6a6d78" text-anchor="end" textLength="23" lengthAdjust="spacingAndGlyphs">Chg</text>
<text x="1803" y="65.8" font-size="13" fill="#6a6d78" text-anchor="end" textLength="31.5" lengthAdjust="spacingAndGlyphs">Chg%</text>
<defs><clipPath id="symclip"><rect x="1560" y="70" width="50" height="550"/></clipPath><linearGradient id="fade" x1="0" x2="1" y1="0" y2="0"><stop offset="0" stop-color="#fff" stop-opacity="0"/><stop offset="1" stop-color="#fff" stop-opacity="1"/></linearGradient><clipPath id="symclipD"><rect x="1560" y="70" width="40.5" height="550"/></clipPath></defs>
<g transform="translate(1553,89) scale(1.0)"><circle r="9" fill="#d89e06"/><path d="M-1.6,-4.3 h3.2 l1.7,3.3 h-6.6 z M-5.3,0 h3.7 l1.15,3 h-6.35 z M1.6,0 h3.7 l1.45,3 h-6.3 z" fill="#fff"/></g>
<g clip-path="url(#symclip)"><text x="1568.5" y="93.7" font-size="13.8" fill="#131722" transform="translate(1568.5,0) scale(0.85,1) translate(-1568.5,0)">GOLD</text></g>
<text x="1678" y="93.7" font-size="13.2" text-anchor="end"><tspan fill="#131722">4,53</tspan><tspan fill="#22ab94">7.75</tspan></text>
<text x="1742.5" y="93.7" font-size="13.2" fill="#22ab94" text-anchor="end">26.59</text>
<text x="1803" y="93.7" font-size="13.2" fill="#22ab94" text-anchor="end">0.59%</text>
<rect x="1528" y="103" width="291" height="1" fill="#f0f0f0"/>
<g transform="translate(1553,119) scale(1.0)"><circle r="9" fill="#b2b5be"/><path d="M-1.6,-4.3 h3.2 l1.7,3.3 h-6.6 z M-5.3,0 h3.7 l1.15,3 h-6.35 z M1.6,0 h3.7 l1.45,3 h-6.3 z" fill="#fff"/></g>
<g clip-path="url(#symclip)"><text x="1568.5" y="123.7" font-size="13.8" fill="#131722" transform="translate(1568.5,0) scale(0.85,1) translate(-1568.5,0)">XAGUSD</text></g>
<text x="1678" y="123.7" font-size="13.2" text-anchor="end"><tspan fill="#131722">70.1</tspan><tspan fill="#22ab94">52</tspan></text>
<text x="1742.5" y="123.7" font-size="13.2" fill="#22ab94" text-anchor="end">0.249</text>
<text x="1803" y="123.7" font-size="13.2" fill="#22ab94" text-anchor="end">0.36%</text>
<rect x="1528" y="133" width="291" height="1" fill="#f0f0f0"/>
<circle cx="1553" cy="149" r="9" fill="#0d7d66"/><text x="1553" y="153.8" font-size="13" font-weight="bold" fill="#fff" text-anchor="middle">S</text>
<g clip-path="url(#symclip)"><text x="1568.5" y="153.7" font-size="13.8" fill="#131722" transform="translate(1568.5,0) scale(0.85,1) translate(-1568.5,0)">DXY</text></g>
<text x="1678" y="153.7" font-size="13.2" text-anchor="end"><tspan fill="#131722">100.23</tspan><tspan fill="#f23645">3</tspan></text>
<text x="1742.5" y="153.7" font-size="13.2" fill="#f23645" text-anchor="end">−0.071</text>
<text x="1803" y="153.7" font-size="13.2" fill="#f23645" text-anchor="end">−0.07%</text>
<rect x="1528" y="163" width="291" height="1" fill="#f0f0f0"/>
<circle cx="1553" cy="179" r="9" fill="#1e4b8a"/><text x="1553" y="182.3" font-size="8.5" font-weight="bold" fill="#fff" text-anchor="middle" textLength="14" lengthAdjust="spacingAndGlyphs">225</text>
<g clip-path="url(#symclip)"><text x="1568.5" y="183.7" font-size="13.8" fill="#131722" transform="translate(1568.5,0) scale(0.85,1) translate(-1568.5,0)">NIKKEI</text></g>
<text x="1678" y="183.7" font-size="13.2" text-anchor="end"><tspan fill="#131722">51,2</tspan><tspan fill="#22ab94">72</tspan></text>
<text x="1742.5" y="183.7" font-size="13.2" fill="#22ab94" text-anchor="end">268</text>
<text x="1803" y="183.7" font-size="13.2" fill="#22ab94" text-anchor="end">0.53%</text>
<rect x="1528" y="193" width="291" height="1" fill="#f0f0f0"/>
<circle cx="1553" cy="209" r="9" fill="#e5262f"/><path d="M1550.5,204 v4 l-2.3,5.5 h2.6 l1.2,-4 l1.2,4 h2.6 l-2.3,-5.5 v-4 z" fill="#fff"/>
<g clip-path="url(#symclipD)"><text x="1568.5" y="213.7" font-size="13.8" fill="#131722" transform="translate(1568.5,0) scale(0.85,1) translate(-1568.5,0)">HSI1!</text></g>
<text x="1603.4" y="206.8" font-size="9.3" font-weight="bold" fill="#ff9800">D</text>
<text x="1678" y="213.7" font-size="13.2" text-anchor="end"><tspan fill="#131722">24,683</tspan></text>
<text x="1742.5" y="213.7" font-size="13.2" fill="#f23645" text-anchor="end">−61</text>
<text x="1803" y="213.7" font-size="13.2" fill="#f23645" text-anchor="end">−0.25%</text>
<rect x="1528" y="223" width="291" height="1" fill="#f0f0f0"/>
<circle cx="1553" cy="239" r="9" fill="#131722"/><path d="M1553,233.5 C1549.7,238 1549,240 1549,241 a4,4 0 0 0 8,0 C1557,240 1556.3,238 1553,233.5 z" fill="#fff"/>
<g clip-path="url(#symclip)"><text x="1568.5" y="243.7" font-size="13.8" fill="#131722" transform="translate(1568.5,0) scale(0.85,1) translate(-1568.5,0)">WTI</text></g>
<text x="1678" y="243.7" font-size="13.2" text-anchor="end"><tspan fill="#131722">106.</tspan><tspan fill="#f23645">370</tspan></text>
<text x="1742.5" y="243.7" font-size="13.2" fill="#22ab94" text-anchor="end">0.181</text>
<text x="1803" y="243.7" font-size="13.2" fill="#22ab94" text-anchor="end">0.17%</text>
<rect x="1528" y="253" width="291" height="1" fill="#f0f0f0"/>
<circle cx="1553" cy="269" r="9" fill="#131722"/><path d="M1553,263.5 C1549.7,268 1549,270 1549,271 a4,4 0 0 0 8,0 C1557,270 1556.3,268 1553,263.5 z" fill="#fff"/>
<g clip-path="url(#symclip)"><text x="1568.5" y="273.7" font-size="13.8" fill="#131722" transform="translate(1568.5,0) scale(0.85,1) translate(-1568.5,0)">BRENT</text></g>
<text x="1678" y="273.7" font-size="13.2" text-anchor="end"><tspan fill="#131722">107.9</tspan><tspan fill="#f23645">55</tspan></text>
<text x="1742.5" y="273.7" font-size="13.2" fill="#22ab94" text-anchor="end">0.230</text>
<text x="1803" y="273.7" font-size="13.2" fill="#22ab94" text-anchor="end">0.21%</text>
<rect x="1528" y="283" width="291" height="1" fill="#f0f0f0"/>
<clipPath id="pc1553299"><circle cx="1550" cy="301.7" r="6.3"/></clipPath><g><clipPath id="c1556.3295.2"><circle cx="1556.3" cy="295.2" r="5.8"/></clipPath><g clip-path="url(#c1556.3295.2)"><rect x="1550.5" y="289.4" width="11.6" height="11.6" fill="#fff"/><rect x="1550.5" y="289.40" width="11.6" height="0.83" fill="#f23645"/><rect x="1550.5" y="291.06" width="11.6" height="0.83" fill="#f23645"/><rect x="1550.5" y="292.71" width="11.6" height="0.83" fill="#f23645"/><rect x="1550.5" y="294.37" width="11.6" height="0.83" fill="#f23645"/><rect x="1550.5" y="296.03" width="11.6" height="0.83" fill="#f23645"/><rect x="1550.5" y="297.69" width="11.6" height="0.83" fill="#f23645"/><rect x="1550.5" y="299.34" width="11.6" height="0.83" fill="#f23645"/><rect x="1550.5" y="289.4" width="5.8" height="5.8" fill="#2962ff"/></g></g><circle cx="1550" cy="301.7" r="7.3" fill="#fff"/><g clip-path="url(#pc1553299)"><rect x="1543.7" y="295.4" width="12.6" height="12.6" fill="#1e3d94"/><rect x="1543.7" y="295.4" width="6.3" height="6.3" fill="#1e3d94"/><path d="M1543.7,295.4 l6.3,6.3 M1550,295.4 l-6.3,6.3" stroke="#fff" stroke-width="1.4"/><path d="M1546.85,295.4 v6.3 M1543.7,298.55 h6.3" stroke="#f23645" stroke-width="1.2"/><circle cx="1546.85" cy="304.7" r="1" fill="#fff"/><circle cx="1553" cy="300.7" r="0.8" fill="#fff"/><circle cx="1552.5" cy="304.7" r="0.8" fill="#fff"/></g>
<g clip-path="url(#symclip)"><text x="1568.5" y="303.7" font-size="13.8" fill="#131722" transform="translate(1568.5,0) scale(0.85,1) translate(-1568.5,0)">AUDUSD</text></g>
<text x="1678" y="303.7" font-size="13.2" text-anchor="end"><tspan fill="#131722">0.685</tspan><tspan fill="#f23645">6</tspan><tspan fill="#f23645" font-size="9" dy="-4">8</tspan></text>
<text x="1742.5" y="303.7" font-size="13.2" fill="#22ab94" text-anchor="end">0.00052</text>
<text x="1803" y="303.7" font-size="13.2" fill="#22ab94" text-anchor="end">0.08%</text>
<rect x="1528" y="313" width="291" height="1" fill="#f0f0f0"/>
<clipPath id="pc1553329"><circle cx="1550" cy="331.7" r="6.3"/></clipPath><g><clipPath id="c1556.3325.2"><circle cx="1556.3" cy="325.2" r="5.8"/></clipPath><g clip-path="url(#c1556.3325.2)"><rect x="1550.5" y="319.4" width="11.6" height="11.6" fill="#fff"/><rect x="1550.5" y="319.40" width="11.6" height="0.83" fill="#f23645"/><rect x="1550.5" y="321.06" width="11.6" height="0.83" fill="#f23645"/><rect x="1550.5" y="322.71" width="11.6" height="0.83" fill="#f23645"/><rect x="1550.5" y="324.37" width="11.6" height="0.83" fill="#f23645"/><rect x="1550.5" y="326.03" width="11.6" height="0.83" fill="#f23645"/><rect x="1550.5" y="327.69" width="11.6" height="0.83" fill="#f23645"/><rect x="1550.5" y="329.34" width="11.6" height="0.83" fill="#f23645"/><rect x="1550.5" y="319.4" width="5.8" height="5.8" fill="#2962ff"/></g></g><circle cx="1550" cy="331.7" r="7.3" fill="#fff"/><g clip-path="url(#pc1553329)"><rect x="1543.7" y="325.4" width="12.6" height="12.6" fill="#2553b8"/><circle cx="1550" cy="331.7" r="3.6" fill="none" stroke="#f5d000" stroke-width="1" stroke-dasharray="0.9 1"/></g>
<g clip-path="url(#symclip)"><text x="1568.5" y="333.7" font-size="13.8" fill="#131722" transform="translate(1568.5,0) scale(0.85,1) translate(-1568.5,0)">EURUSD</text></g>
<text x="1678" y="333.7" font-size="13.2" text-anchor="end"><tspan fill="#131722">1.147</tspan><tspan fill="#22ab94">3</tspan><tspan fill="#22ab94" font-size="9" dy="-4">0</tspan></text>
<text x="1742.5" y="333.7" font-size="13.2" fill="#22ab94" text-anchor="end">0.00112</text>
<text x="1803" y="333.7" font-size="13.2" fill="#22ab94" text-anchor="end">0.10%</text>
<rect x="1528" y="343" width="291" height="1" fill="#f0f0f0"/>
<clipPath id="pc1553359"><circle cx="1550" cy="361.7" r="6.3"/></clipPath><g><clipPath id="c1556.3355.2"><circle cx="1556.3" cy="355.2" r="5.8"/></clipPath><g clip-path="url(#c1556.3355.2)"><rect x="1550.5" y="349.4" width="11.6" height="11.6" fill="#fff"/><rect x="1550.5" y="349.40" width="11.6" height="0.83" fill="#f23645"/><rect x="1550.5" y="351.06" width="11.6" height="0.83" fill="#f23645"/><rect x="1550.5" y="352.71" width="11.6" height="0.83" fill="#f23645"/><rect x="1550.5" y="354.37" width="11.6" height="0.83" fill="#f23645"/><rect x="1550.5" y="356.03" width="11.6" height="0.83" fill="#f23645"/><rect x="1550.5" y="357.69" width="11.6" height="0.83" fill="#f23645"/><rect x="1550.5" y="359.34" width="11.6" height="0.83" fill="#f23645"/><rect x="1550.5" y="349.4" width="5.8" height="5.8" fill="#2962ff"/></g></g><circle cx="1550" cy="361.7" r="7.3" fill="#fff"/><g clip-path="url(#pc1553359)"><rect x="1543.7" y="355.4" width="12.6" height="12.6" fill="#2a4ea0"/><path d="M1543.7,355.4 l12.6,12.6 M1556.3,355.4 l-12.6,12.6" stroke="#fff" stroke-width="2"/><path d="M1543.7,361.7 h12.6 M1550,355.4 v12.6" stroke="#fff" stroke-width="3"/><path d="M1543.7,361.7 h12.6 M1550,355.4 v12.6" stroke="#f23645" stroke-width="1.5"/></g>
<g clip-path="url(#symclip)"><text x="1568.5" y="363.7" font-size="13.8" fill="#131722" transform="translate(1568.5,0) scale(0.85,1) translate(-1568.5,0)">GBPUSD</text></g>
<text x="1678" y="363.7" font-size="13.2" text-anchor="end"><tspan fill="#131722">1.3199</tspan><tspan fill="#22ab94" font-size="9" dy="-4">9</tspan></text>
<text x="1742.5" y="363.7" font-size="13.2" fill="#22ab94" text-anchor="end">0.00159</text>
<text x="1803" y="363.7" font-size="13.2" fill="#22ab94" text-anchor="end">0.12%</text>
<rect x="1528" y="373" width="291" height="1" fill="#f0f0f0"/>
<clipPath id="pc1553389"><circle cx="1550" cy="391.7" r="6.3"/></clipPath><circle cx="1556.3" cy="385.2" r="5.8" fill="#f23645" stroke="#e6e6e6" stroke-width="0.6"/><path d="M1556.3,382.2 v6 M1553.3,385.2 h6" stroke="#fff" stroke-width="1.7"/><circle cx="1550" cy="391.7" r="7.3" fill="#fff"/><g><clipPath id="c1550391.7"><circle cx="1550" cy="391.7" r="6.3"/></clipPath><g clip-path="url(#c1550391.7)"><rect x="1543.7" y="385.4" width="12.6" height="12.6" fill="#fff"/><rect x="1543.7" y="385.40" width="12.6" height="0.90" fill="#f23645"/><rect x="1543.7" y="387.20" width="12.6" height="0.90" fill="#f23645"/><rect x="1543.7" y="389.00" width="12.6" height="0.90" fill="#f23645"/><rect x="1543.7" y="390.80" width="12.6" height="0.90" fill="#f23645"/><rect x="1543.7" y="392.60" width="12.6" height="0.90" fill="#f23645"/><rect x="1543.7" y="394.40" width="12.6" height="0.90" fill="#f23645"/><rect x="1543.7" y="396.20" width="12.6" height="0.90" fill="#f23645"/><rect x="1543.7" y="385.4" width="6.3" height="6.3" fill="#2962ff"/></g></g>
<g clip-path="url(#symclip)"><text x="1568.5" y="393.7" font-size="13.8" fill="#131722" transform="translate(1568.5,0) scale(0.85,1) translate(-1568.5,0)">USDCHF</text></g>
<text x="1678" y="393.7" font-size="13.2" text-anchor="end"><tspan fill="#131722">0.7990</tspan><tspan fill="#22ab94" font-size="9" dy="-4">8</tspan></text>
<text x="1742.5" y="393.7" font-size="13.2" fill="#f23645" text-anchor="end">−0.00046</text>
<text x="1803" y="393.7" font-size="13.2" fill="#f23645" text-anchor="end">−0.06%</text>
<rect x="1528" y="403" width="291" height="1" fill="#f0f0f0"/>
<clipPath id="pc1553419"><circle cx="1550" cy="421.7" r="6.3"/></clipPath><circle cx="1556.3" cy="415.2" r="5.8" fill="#fff" stroke="#e6e6e6" stroke-width="0.6"/><circle cx="1556.3" cy="415.2" r="2.1" fill="#f23645"/><circle cx="1550" cy="421.7" r="7.3" fill="#fff"/><g><clipPath id="c1550421.7"><circle cx="1550" cy="421.7" r="6.3"/></clipPath><g clip-path="url(#c1550421.7)"><rect x="1543.7" y="415.4" width="12.6" height="12.6" fill="#fff"/><rect x="1543.7" y="415.40" width="12.6" height="0.90" fill="#f23645"/><rect x="1543.7" y="417.20" width="12.6" height="0.90" fill="#f23645"/><rect x="1543.7" y="419.00" width="12.6" height="0.90" fill="#f23645"/><rect x="1543.7" y="420.80" width="12.6" height="0.90" fill="#f23645"/><rect x="1543.7" y="422.60" width="12.6" height="0.90" fill="#f23645"/><rect x="1543.7" y="424.40" width="12.6" height="0.90" fill="#f23645"/><rect x="1543.7" y="426.20" width="12.6" height="0.90" fill="#f23645"/><rect x="1543.7" y="415.4" width="6.3" height="6.3" fill="#2962ff"/></g></g>
<g clip-path="url(#symclip)"><text x="1568.5" y="423.7" font-size="13.8" fill="#131722" transform="translate(1568.5,0) scale(0.85,1) translate(-1568.5,0)">USDJPY</text></g>
<text x="1678" y="423.7" font-size="13.2" text-anchor="end"><tspan fill="#131722">159.7</tspan><tspan fill="#f23645">4</tspan><tspan fill="#f23645" font-size="9" dy="-4">7</tspan></text>
<text x="1742.5" y="423.7" font-size="13.2" fill="#22ab94" text-anchor="end">0.078</text>
<text x="1803" y="423.7" font-size="13.2" fill="#22ab94" text-anchor="end">0.05%</text>
<rect x="1528" y="433" width="291" height="1" fill="#f0f0f0"/>
<circle cx="1553" cy="449" r="9" fill="#fff"/><g><clipPath id="c1553449"><circle cx="1553" cy="449" r="9"/></clipPath><g clip-path="url(#c1553449)"><rect x="1544" y="440" width="18" height="18" fill="#fff"/><rect x="1544" y="440.00" width="18" height="1.29" fill="#f23645"/><rect x="1544" y="442.57" width="18" height="1.29" fill="#f23645"/><rect x="1544" y="445.14" width="18" height="1.29" fill="#f23645"/><rect x="1544" y="447.71" width="18" height="1.29" fill="#f23645"/><rect x="1544" y="450.29" width="18" height="1.29" fill="#f23645"/><rect x="1544" y="452.86" width="18" height="1.29" fill="#f23645"/><rect x="1544" y="455.43" width="18" height="1.29" fill="#f23645"/><rect x="1544" y="440" width="9" height="9" fill="#2962ff"/></g></g>
<g clip-path="url(#symclipD)"><text x="1568.5" y="453.7" font-size="13.8" fill="#131722" transform="translate(1568.5,0) scale(0.85,1) translate(-1568.5,0)">DJIA1!</text></g>
<text x="1603.4" y="446.8" font-size="9.3" font-weight="bold" fill="#ff9800">D</text>
<text x="1678" y="453.7" font-size="13.2" text-anchor="end"><tspan fill="#131722">45,</tspan><tspan fill="#22ab94">201</tspan></text>
<text x="1742.5" y="453.7" font-size="13.2" fill="#f23645" text-anchor="end">−381</text>
<text x="1803" y="453.7" font-size="13.2" fill="#f23645" text-anchor="end">−0.84%</text>
<rect x="1528" y="463" width="291" height="1" fill="#f0f0f0"/>
<circle cx="1553" cy="479" r="9" fill="#1496c2"/><text x="1553" y="482" font-size="8" font-weight="bold" fill="#fff" text-anchor="middle" textLength="13" lengthAdjust="spacingAndGlyphs">100</text>
<g clip-path="url(#symclipD)"><text x="1568.5" y="483.7" font-size="13.8" fill="#131722" transform="translate(1568.5,0) scale(0.85,1) translate(-1568.5,0)">NDA1!</text></g>
<text x="1603.4" y="476.8" font-size="9.3" font-weight="bold" fill="#ff9800">D</text>
<text x="1678" y="483.7" font-size="13.2" text-anchor="end"><tspan fill="#131722">163.6</tspan></text>
<text x="1742.5" y="483.7" font-size="13.2" fill="#131722" text-anchor="end">0.0</text>
<text x="1803" y="483.7" font-size="13.2" fill="#131722" text-anchor="end">0.00%</text>
<rect x="1528" y="493" width="291" height="1" fill="#f0f0f0"/>
<clipPath id="pc1553509"><circle cx="1550" cy="511.7" r="6.3"/></clipPath><circle cx="1556.3" cy="505.2" r="5.8" fill="#f23645" stroke="#e6e6e6" stroke-width="0.6"/><rect x="1550.5" y="505.2" width="11.6" height="5.8" fill="#fff"/><circle cx="1550" cy="511.7" r="7.3" fill="#fff"/><g><clipPath id="c1550511.7"><circle cx="1550" cy="511.7" r="6.3"/></clipPath><g clip-path="url(#c1550511.7)"><rect x="1543.7" y="505.4" width="12.6" height="12.6" fill="#fff"/><rect x="1543.7" y="505.40" width="12.6" height="0.90" fill="#f23645"/><rect x="1543.7" y="507.20" width="12.6" height="0.90" fill="#f23645"/><rect x="1543.7" y="509.00" width="12.6" height="0.90" fill="#f23645"/><rect x="1543.7" y="510.80" width="12.6" height="0.90" fill="#f23645"/><rect x="1543.7" y="512.60" width="12.6" height="0.90" fill="#f23645"/><rect x="1543.7" y="514.40" width="12.6" height="0.90" fill="#f23645"/><rect x="1543.7" y="516.20" width="12.6" height="0.90" fill="#f23645"/><rect x="1543.7" y="505.4" width="6.3" height="6.3" fill="#2962ff"/></g></g>
<g clip-path="url(#symclip)"><text x="1568.5" y="513.7" font-size="13.8" fill="#131722" transform="translate(1568.5,0) scale(0.85,1) translate(-1568.5,0)">USDIDR</text></g>
<text x="1678" y="513.7" font-size="13.2" text-anchor="end"><tspan fill="#131722">16,992.</tspan><tspan fill="#131722" font-size="9" dy="-4">6</tspan></text>
<text x="1742.5" y="513.7" font-size="13.2" fill="#22ab94" text-anchor="end">15.8</text>
<text x="1803" y="513.7" font-size="13.2" fill="#22ab94" text-anchor="end">0.09%</text>
<rect x="1528" y="523" width="291" height="1" fill="#f0f0f0"/>
<circle cx="1553" cy="539" r="9" fill="#f7931a"/><text x="1553" y="543.3" font-size="12" font-weight="bold" fill="#fff" text-anchor="middle">₿</text>
<g clip-path="url(#symclip)"><text x="1568.5" y="543.7" font-size="13.8" fill="#131722" transform="translate(1568.5,0) scale(0.85,1) translate(-1568.5,0)">BTCUSD</text></g>
<text x="1678" y="543.7" font-size="13.2" text-anchor="end"><tspan fill="#131722">66,99</tspan><tspan fill="#f23645">0.18</tspan></text>
<text x="1742.5" y="543.7" font-size="13.2" fill="#22ab94" text-anchor="end">250.53</text>
<text x="1803" y="543.7" font-size="13.2" fill="#22ab94" text-anchor="end">0.38%</text>
<rect x="1528" y="553" width="291" height="1" fill="#f0f0f0"/>
<circle cx="1553" cy="569" r="9" fill="#4e5ba6"/><path d="M1553,563 l-3.6,6 l3.6,2.2 l3.6,-2.2 z M1549.4,569.8 l3.6,5.2 l3.6,-5.2 l-3.6,2.2 z" fill="#fff" fill-opacity="0.9"/>
<g clip-path="url(#symclip)"><text x="1568.5" y="573.7" font-size="13.8" fill="#131722" transform="translate(1568.5,0) scale(0.85,1) translate(-1568.5,0)">ETHUSD</text></g>
<text x="1678" y="573.7" font-size="13.2" text-anchor="end"><tspan fill="#131722">2,0</tspan><tspan fill="#f23645">29.89</tspan></text>
<text x="1742.5" y="573.7" font-size="13.2" fill="#22ab94" text-anchor="end">5.07</text>
<text x="1803" y="573.7" font-size="13.2" fill="#22ab94" text-anchor="end">0.25%</text>
<rect x="1528" y="583" width="291" height="1" fill="#f0f0f0"/>
<circle cx="1553" cy="599" r="9" fill="#131722"/><path d="M1549,595.2 h7 l1,-1 M1549,599.3 h7 M1549,603.3 h7" stroke="#19d3c5" stroke-width="1.6"/><path d="M1549.5,595.7 h7.5" stroke="#7b5cff" stroke-width="1.6"/><path d="M1549.5,599.3 h7.5" stroke="#4aa3ff" stroke-width="1.6"/><path d="M1549.5,603 h7.5" stroke="#c13dff" stroke-width="1.6"/>
<g clip-path="url(#symclip)"><text x="1568.5" y="603.7" font-size="13.8" fill="#131722" transform="translate(1568.5,0) scale(0.85,1) translate(-1568.5,0)">SOLUSD</text></g>
<text x="1678" y="603.7" font-size="13.2" text-anchor="end"><tspan fill="#131722">82.4</tspan><tspan fill="#f23645">58</tspan></text>
<text x="1742.5" y="603.7" font-size="13.2" fill="#f23645" text-anchor="end">−0.017</text>
<text x="1803" y="603.7" font-size="13.2" fill="#f23645" text-anchor="end">−0.02%</text>
<rect x="1529" y="76" width="289" height="26" rx="6" fill="none" stroke="#131722" stroke-width="2"/>
<path d="M1528,322 h12 l-3,6.5 l3,6.5 h-12 z" fill="#f23645"/>
<rect x="1528" y="613" width="291" height="1" fill="#f0f0f0"/>
<rect x="1528" y="619" width="292" height="4" fill="#e9e9e9"/>
<g transform="translate(1556,646.7) scale(1.3333333333333333)"><circle r="9" fill="#d89e06"/><path d="M-1.6,-4.3 h3.2 l1.7,3.3 h-6.6 z M-5.3,0 h3.7 l1.15,3 h-6.35 z M1.6,0 h3.7 l1.45,3 h-6.3 z" fill="#fff"/></g>
<text x="1576.4" y="652" font-size="14.5" font-weight="bold" fill="#131722" textLength="35.4" lengthAdjust="spacingAndGlyphs">GOLD</text>
<rect x="1707.5" y="638.5" width="7" height="7" rx="1.5" fill="none" stroke="#131722" stroke-width="1.1"/>
<rect x="1707.5" y="648.5" width="7" height="7" rx="1.5" fill="none" stroke="#131722" stroke-width="1.1"/>
<rect x="1717.5" y="638.5" width="7" height="7" rx="1.5" fill="none" stroke="#131722" stroke-width="1.1"/>
<rect x="1717.5" y="648.5" width="7" height="7" rx="1.5" fill="none" stroke="#131722" stroke-width="1.1"/>
<path d="M1755,638.7 h-7.7 a2,2 0 0 0 -2,2 v13 a2,2 0 0 0 2,2 h13.5 a2,2 0 0 0 2,-2 v-4.7" fill="none" stroke="#131722" stroke-width="1.1"/>
<path d="M1751.2,651.2 v-3.3 l9,-9 a1.1,1.1 0 0 1 1.6,0 l1.6,1.6 a1.1,1.1 0 0 1 0,1.6 l-9,9 z M1759.3,639.8 l3.2,3.2" fill="none" stroke="#131722" stroke-width="1.1" stroke-linejoin="round"/>
<circle cx="1785.5" cy="647.5" r="2.2" fill="none" stroke="#131722" stroke-width="1.1"/>
<circle cx="1792.5" cy="647.5" r="2.2" fill="none" stroke="#131722" stroke-width="1.1"/>
<circle cx="1799.5" cy="647.5" r="2.2" fill="none" stroke="#131722" stroke-width="1.1"/>
<text x="1544.4" y="686" font-size="12.5" fill="#131722" textLength="24.5" lengthAdjust="spacingAndGlyphs">Gold</text>
<path d="M1578.5,677.5 h-3 v10 h10 v-3 M1580.5,676.5 h5 v5 M1585.5,676.5 l-5.5,5.5" fill="none" stroke="#131722" stroke-width="1" stroke-opacity="0.8"/>
<circle cx="1593.5" cy="682" r="1.2" fill="#787b86"/>
<text x="1601" y="686" font-size="12.5" fill="#131722" textLength="72" lengthAdjust="spacingAndGlyphs">ACTIVTRADES</text>
<text x="1544.4" y="707" font-size="12.5" fill="#9598a1" textLength="60" lengthAdjust="spacingAndGlyphs">Commodity</text>
<circle cx="1612.5" cy="703" r="1.2" fill="#9598a1"/>
<text x="1620" y="707" font-size="12.5" fill="#9598a1" textLength="18" lengthAdjust="spacingAndGlyphs">Cfd</text>
<text x="1544" y="753.8" font-size="28" font-weight="bold" fill="#131722" textLength="117.7" lengthAdjust="spacingAndGlyphs">4,53<tspan fill="#089981">7.75</tspan></text>
<text x="1667" y="754" font-size="11.5" fill="#131722" textLength="21" lengthAdjust="spacingAndGlyphs">USD</text>
<text x="1545" y="778" font-size="14" font-weight="bold" fill="#089981" textLength="51" lengthAdjust="spacingAndGlyphs">+26.59</text>
<text x="1606" y="778" font-size="14" font-weight="bold" fill="#089981" textLength="53" lengthAdjust="spacingAndGlyphs">+0.59%</text>
<circle cx="1552.8" cy="795.8" r="4" fill="#089981"/>
<text x="1562" y="800" font-size="13" fill="#089981" textLength="72" lengthAdjust="spacingAndGlyphs">Market open</text>
<path d="M1544,827 v-2 a8,8 0 0 1 8,-8 h243 a8,8 0 0 1 8,8 v2 z" fill="#e8e3f4"/>
<text x="1572" y="834" font-size="13" fill="#131722">1 hour ago · Gold Heads for fl</text>
<rect x="1525.8" y="783.5" width="7.5" height="25.5" rx="3.5" fill="#fff" stroke="#e3e3e3" stroke-width="1"/>
<path d="M1528.5,793 l2.5,3 l-2.5,3" fill="none" stroke="#9598a1" stroke-width="1"/>
</svg>
</body></html>
